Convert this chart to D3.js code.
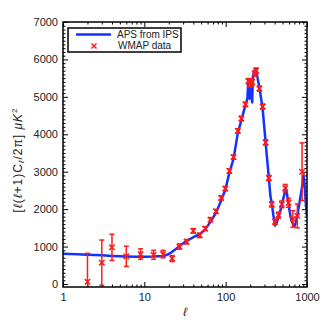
<!DOCTYPE html>
<html><head><meta charset="utf-8">
<script src="https://cdn.jsdelivr.net/npm/d3@7"></script>
<style>
html,body{margin:0;padding:0;background:#fff;}
svg{display:block;font-family:"Liberation Sans",Arial,sans-serif;}
</style></head>
<body>
<svg id="chart" width="327" height="327"></svg>
<script>
// Model curve "APS from IPS"
const lineL = [1, 1.5, 2, 3, 4, 6, 8, 10, 13, 17, 19, 21, 24, 27, 30, 35, 40, 48, 56, 65, 76, 88, 99, 111, 125, 141, 156, 175, 185, 190, 193, 197, 201, 205, 208, 212, 216, 222, 230, 237, 248, 260, 285, 310, 340, 355, 362, 370, 385, 405, 425, 450, 490, 520, 550, 565, 590, 630, 670, 700, 730, 770, 820, 870, 905, 930, 960, 1000];
const lineV = [810, 795, 780, 765, 750, 735, 730, 730, 735, 750, 780, 830, 920, 1010, 1090, 1180, 1250, 1330, 1460, 1660, 1900, 2230, 2520, 2970, 3350, 4030, 4380, 4780, 4950, 5450, 5200, 4950, 5380, 5350, 5000, 4850, 5550, 5650, 5720, 5750, 5480, 5250, 4680, 3780, 2820, 2350, 2250, 2150, 1850, 1560, 1650, 1800, 2100, 2350, 2550, 2450, 2150, 1780, 1600, 1540, 1650, 1900, 2250, 2600, 2900, 2700, 2250, 1800];

// WMAP data points
const dataL = [2, 3, 4, 6, 9, 13, 17, 22, 27, 33, 40, 48, 56, 65, 76, 88, 99, 111, 125, 141, 156, 175, 190, 200, 212, 228, 236, 260, 285, 310, 340, 368, 405, 445, 490, 540, 595, 670, 760, 870];
const dataV = [60, 570, 980, 740, 800, 780, 800, 680, 1000, 1130, 1420, 1300, 1480, 1720, 1940, 2300, 2550, 3020, 3390, 4090, 4420, 4800, 5420, 5340, 5400, 5620, 5700, 5220, 4740, 3780, 2830, 2130, 1660, 1840, 2130, 2560, 2170, 1740, 1820, 3000];
const dataE = [760, 605, 350, 270, 140, 120, 100, 80, 70, 60, 60, 60, 55, 55, 55, 55, 55, 55, 55, 60, 60, 60, 70, 70, 70, 70, 70, 70, 70, 70, 70, 70, 70, 80, 90, 100, 120, 220, 320, 770];

const xMajor = [1, 10, 100, 1000];
const yMajor = [0, 1000, 2000, 3000, 4000, 5000, 6000, 7000];
const legendLabels = ["APS from IPS", "WMAP data"];

const svg = d3.select("#chart");
const L = 63, R = 307, T = 22, B = 287;
const x = d3.scaleLog().domain([1, 1000]).range([L, R]);
const y = d3.scaleLinear().domain([-80, 7000]).range([B, T]);

const xMinor = [];
for (let d = 1; d < 1000; d *= 10) for (let k = 2; k <= 9; k++) xMinor.push(d * k);
const yMinor = d3.range(0, 7001, 100).filter(v => v % 1000 !== 0);

const defs = svg.append("defs");
defs.append("clipPath").attr("id", "clip").append("rect")
  .attr("x", L).attr("y", T).attr("width", R - L).attr("height", B - T);

const fmt = d3.format("d");
const axisStyle = g => { g.select(".domain").remove(); g.selectAll("line").attr("stroke", "#000").attr("stroke-width", 1); g.selectAll("text").attr("fill", "#222").attr("font-size", 11); };

// bottom
svg.append("g").attr("transform", `translate(0,${B})`)
  .call(d3.axisBottom(x).tickValues(xMajor).tickFormat(fmt).tickSize(-5).tickPadding(6)).call(axisStyle);
svg.append("g").attr("transform", `translate(0,${B})`)
  .call(d3.axisBottom(x).tickValues(xMinor).tickFormat("").tickSize(-2.5)).call(axisStyle);
// top
svg.append("g").attr("transform", `translate(0,${T})`)
  .call(d3.axisTop(x).tickValues(xMajor).tickFormat("").tickSize(-5)).call(axisStyle);
svg.append("g").attr("transform", `translate(0,${T})`)
  .call(d3.axisTop(x).tickValues(xMinor).tickFormat("").tickSize(-2.5)).call(axisStyle);
// left
svg.append("g").attr("transform", `translate(${L},0)`)
  .call(d3.axisLeft(y).tickValues(yMajor).tickFormat(fmt).tickSize(-5).tickPadding(5)).call(axisStyle);
svg.append("g").attr("transform", `translate(${L},0)`)
  .call(d3.axisLeft(y).tickValues(yMinor).tickFormat("").tickSize(-2.5)).call(axisStyle);
// right
svg.append("g").attr("transform", `translate(${R},0)`)
  .call(d3.axisRight(y).tickValues(yMajor).tickFormat("").tickSize(-5)).call(axisStyle);
svg.append("g").attr("transform", `translate(${R},0)`)
  .call(d3.axisRight(y).tickValues(yMinor).tickFormat("").tickSize(-2.5)).call(axisStyle);

const plot = svg.append("g").attr("clip-path", "url(#clip)");

// model line
const lineData = lineL.map((l, i) => [l, lineV[i]]);
plot.append("path").datum(lineData)
  .attr("fill", "none").attr("stroke", "#1432ff").attr("stroke-width", 2.5)
  .attr("stroke-linejoin", "round")
  .attr("d", d3.line().x(d => x(d[0])).y(d => y(d[1])));

// data points
const pts = dataL.map((l, i) => ({ l, v: dataV[i], e: dataE[i] }));
const red = "#ff1a1a";
const pg = plot.append("g").attr("stroke", red).attr("stroke-width", 1.5).attr("fill", "none");
pts.forEach(p => {
  const cx = x(p.l), cy = y(p.v), y1 = y(p.v + p.e), y0 = y(p.v - p.e);
  pg.append("line").attr("x1", cx).attr("x2", cx).attr("y1", y1).attr("y2", y0);
  pg.append("line").attr("x1", cx - 2.5).attr("x2", cx + 2.5).attr("y1", y1).attr("y2", y1);
  pg.append("line").attr("x1", cx - 2.5).attr("x2", cx + 2.5).attr("y1", y0).attr("y2", y0);
  const s = 2.7;
  pg.append("path").attr("d", `M${cx - s},${cy - s}L${cx + s},${cy + s}M${cx - s},${cy + s}L${cx + s},${cy - s}`);
});

// frame
svg.append("rect").attr("x", L).attr("y", T).attr("width", R - L).attr("height", B - T)
  .attr("fill", "none").attr("stroke", "#000").attr("stroke-width", 1.5);

// legend
const lg = svg.append("g");
lg.append("rect").attr("x", 68).attr("y", 28).attr("width", 113).attr("height", 24)
  .attr("fill", "#fff").attr("stroke", "#000").attr("stroke-width", 1.5);
lg.append("line").attr("x1", 76).attr("x2", 111).attr("y1", 34.5).attr("y2", 34.5)
  .attr("stroke", "#1432ff").attr("stroke-width", 2.5);
lg.append("text").attr("x", 117).attr("y", 38).attr("font-size", 10).attr("fill", "#222").text(legendLabels[0]);
lg.append("path").attr("d", "M91.5,43.5L96.5,48.5M91.5,48.5L96.5,43.5").attr("stroke", red).attr("stroke-width", 1.5);
lg.append("text").attr("x", 118).attr("y", 49).attr("font-size", 10).attr("fill", "#222").text(legendLabels[1]);

// axis titles
svg.append("text").attr("x", (L + R) / 2 + 0).attr("y", 316).attr("text-anchor", "middle")
  .attr("font-size", 12).attr("font-style", "italic").attr("fill", "#222").text("ℓ");

const yl = svg.append("text").attr("transform", "translate(22,160) rotate(-90)")
  .attr("text-anchor", "middle").attr("font-size", 12).attr("letter-spacing", 1).attr("fill", "#222");
yl.append("tspan").text("[");
yl.append("tspan").attr("font-style", "italic").text("ℓ");
yl.append("tspan").text("(");
yl.append("tspan").attr("font-style", "italic").text("ℓ");
yl.append("tspan").text("+1)C");
yl.append("tspan").attr("font-style", "italic").attr("font-size", 8).attr("dy", 2).text("ℓ");
yl.append("tspan").attr("dy", -2).text("/2π]  ");
yl.append("tspan").attr("font-style", "italic").text("μK");
yl.append("tspan").attr("font-size", 8).attr("dy", -5).text("2");
</script>
</body></html>
